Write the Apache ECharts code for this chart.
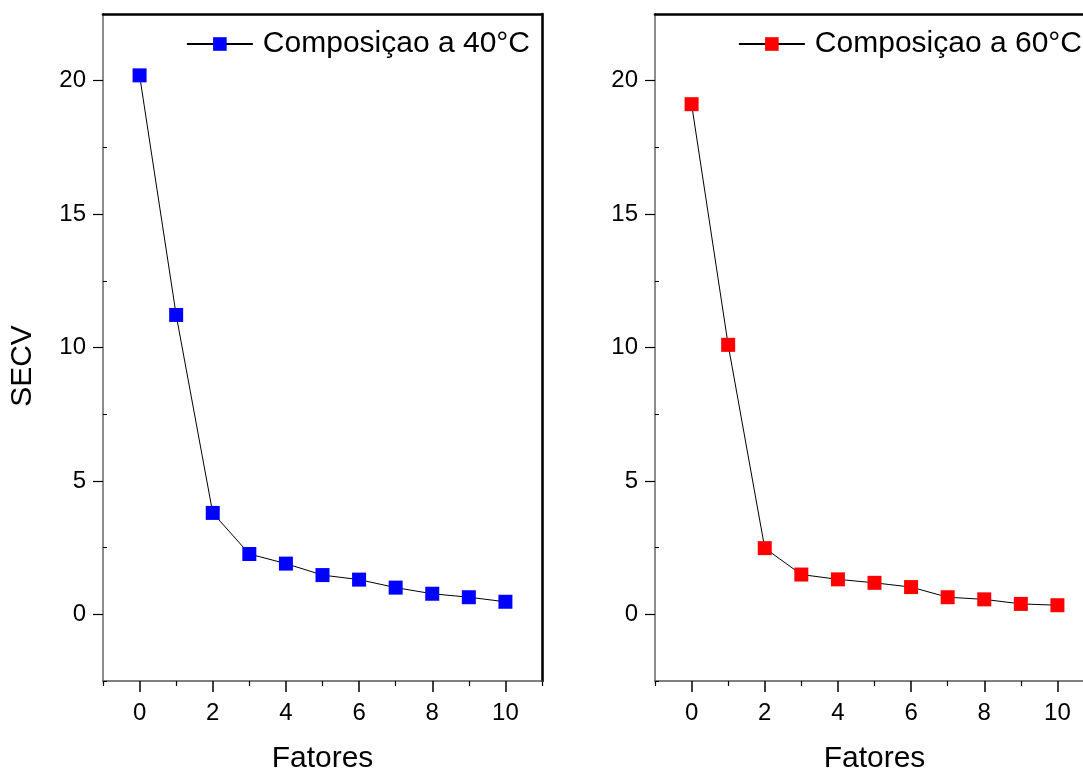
<!DOCTYPE html>
<html>
<head>
<meta charset="utf-8">
<script src="https://cdn.jsdelivr.net/npm/echarts@6/dist/echarts.min.js"></script>
<style>
html,body{margin:0;padding:0;background:#fff;}
#c{width:1083px;height:769px;}
</style>
</head>
<body>
<div id="c"></div>
<script>
// ---- data ----
const fatores = [0, 1, 2, 3, 4, 5, 6, 7, 8, 9, 10];
const secv40 = [20.2, 11.22, 3.8, 2.26, 1.9, 1.47, 1.3, 1.0, 0.77, 0.64, 0.47];
const secv60 = [19.12, 10.1, 2.48, 1.49, 1.31, 1.18, 1.02, 0.64, 0.56, 0.39, 0.34];
const xMajorTicks = [0, 2, 4, 6, 8, 10];
const xMinorTicks = [-1, 1, 3, 5, 7, 9, 11];
const yMajorTicks = [0, 5, 10, 15, 20];
const yMinorTicks = [-2.5, 2.5, 7.5, 12.5, 17.5, 22.5];
const seriesNames = ['Composiçao a 40°C', 'Composiçao a 60°C'];
const xTitle = 'Fatores';
const yTitle = 'SECV';

const FONT = '"Liberation Sans", Arial, sans-serif';
const xMin = -1, xMax = 11, yMin = -2.5, yMax = 22.5;

function pairs(ys) { return fatores.map((x, i) => [x, ys[i]]); }

const grids = [
  { left: 103, top: 14, width: 439, height: 667, outerBoundsMode: 'none', containLabel: false },
  { left: 655, top: 14, width: 439, height: 667, outerBoundsMode: 'none', containLabel: false }
];

const xAxes = [], yAxes = [];
grids.forEach((g, gi) => {
  // bottom main axis
  xAxes.push({
    gridIndex: gi, type: 'value', position: 'bottom', min: xMin, max: xMax,
    axisLine: { show: true, onZero: false, lineStyle: { color: '#555', width: 1.5 } },
    axisTick: { show: true, customValues: xMajorTicks, length: 11, lineStyle: { color: '#000', width: 1.5 } },
    axisLabel: { show: true, customValues: xMajorTicks, fontSize: 24, color: '#000', fontFamily: FONT, margin: 20 },
    splitLine: { show: false },
    name: xTitle, nameLocation: 'middle', nameGap: 63,
    nameTextStyle: { fontSize: 30, color: '#000', fontFamily: FONT }
  });
  // bottom minor ticks
  xAxes.push({
    gridIndex: gi, type: 'value', position: 'bottom', min: xMin, max: xMax,
    axisLine: { show: false, onZero: false },
    axisTick: { show: true, customValues: xMinorTicks, length: 5, lineStyle: { color: '#000', width: 1.2 } },
    axisLabel: { show: false },
    splitLine: { show: false }
  });
  // top frame
  xAxes.push({
    gridIndex: gi, type: 'value', position: 'top', min: xMin, max: xMax,
    axisLine: { show: true, onZero: false, lineStyle: { color: '#000', width: 2.6 } },
    axisTick: { show: false }, axisLabel: { show: false }, splitLine: { show: false }
  });
  // left main axis
  yAxes.push({
    gridIndex: gi, type: 'value', position: 'left', min: yMin, max: yMax,
    axisLine: { show: true, onZero: false, lineStyle: { color: '#666', width: 1.5 } },
    axisTick: { show: true, customValues: yMajorTicks, length: 10, lineStyle: { color: '#000', width: 1.2 } },
    axisLabel: { show: true, customValues: yMajorTicks, fontSize: 24, color: '#000', fontFamily: FONT, margin: 17 },
    splitLine: { show: false }
  });
  // left minor ticks
  yAxes.push({
    gridIndex: gi, type: 'value', position: 'left', min: yMin, max: yMax,
    axisLine: { show: false, onZero: false },
    axisTick: { show: true, inside: true, customValues: yMinorTicks, length: 4, lineStyle: { color: '#000', width: 1 } },
    axisLabel: { show: false }, splitLine: { show: false }
  });
  // right frame
  yAxes.push({
    gridIndex: gi, type: 'value', position: 'right', min: yMin, max: yMax,
    axisLine: { show: true, onZero: false, lineStyle: { color: '#000', width: 2.6 } },
    axisTick: { show: false }, axisLabel: { show: false }, splitLine: { show: false }
  });
});

const colors = ['#0000ff', '#ff0000'];
const datasets = [secv40, secv60];
const series = datasets.map((d, i) => ({
  name: seriesNames[i], type: 'line', xAxisIndex: i * 3, yAxisIndex: i * 3,
  data: pairs(d), symbol: 'rect', symbolSize: 14,
  itemStyle: { color: colors[i] },
  lineStyle: { color: '#000', width: 1 },
  emphasis: { disabled: true }, animation: false
}));

const legends = [
  { data: [seriesNames[0]], right: 553, top: 29 },
  { data: [seriesNames[1]], right: 1, top: 29 }
].map(l => Object.assign({
  itemWidth: 66, itemHeight: 17, itemGap: 10, padding: 0,
  textStyle: { fontSize: 30, color: '#000', fontFamily: FONT, padding: [0, 0, 0, 5] },
  selectedMode: false
}, l));

const chart = echarts.init(document.getElementById('c'), null, { renderer: 'canvas' });
chart.setOption({
  animation: false,
  backgroundColor: '#fff',
  grid: grids,
  xAxis: xAxes,
  yAxis: yAxes,
  legend: legends,
  series: series,
  graphic: [{
    type: 'text', x: 23, y: 366, rotation: Math.PI / 2,
    style: { text: yTitle, fontSize: 30, fill: '#000', fontFamily: FONT, align: 'center', verticalAlign: 'middle' }
  }]
});
</script>
</body>
</html>
